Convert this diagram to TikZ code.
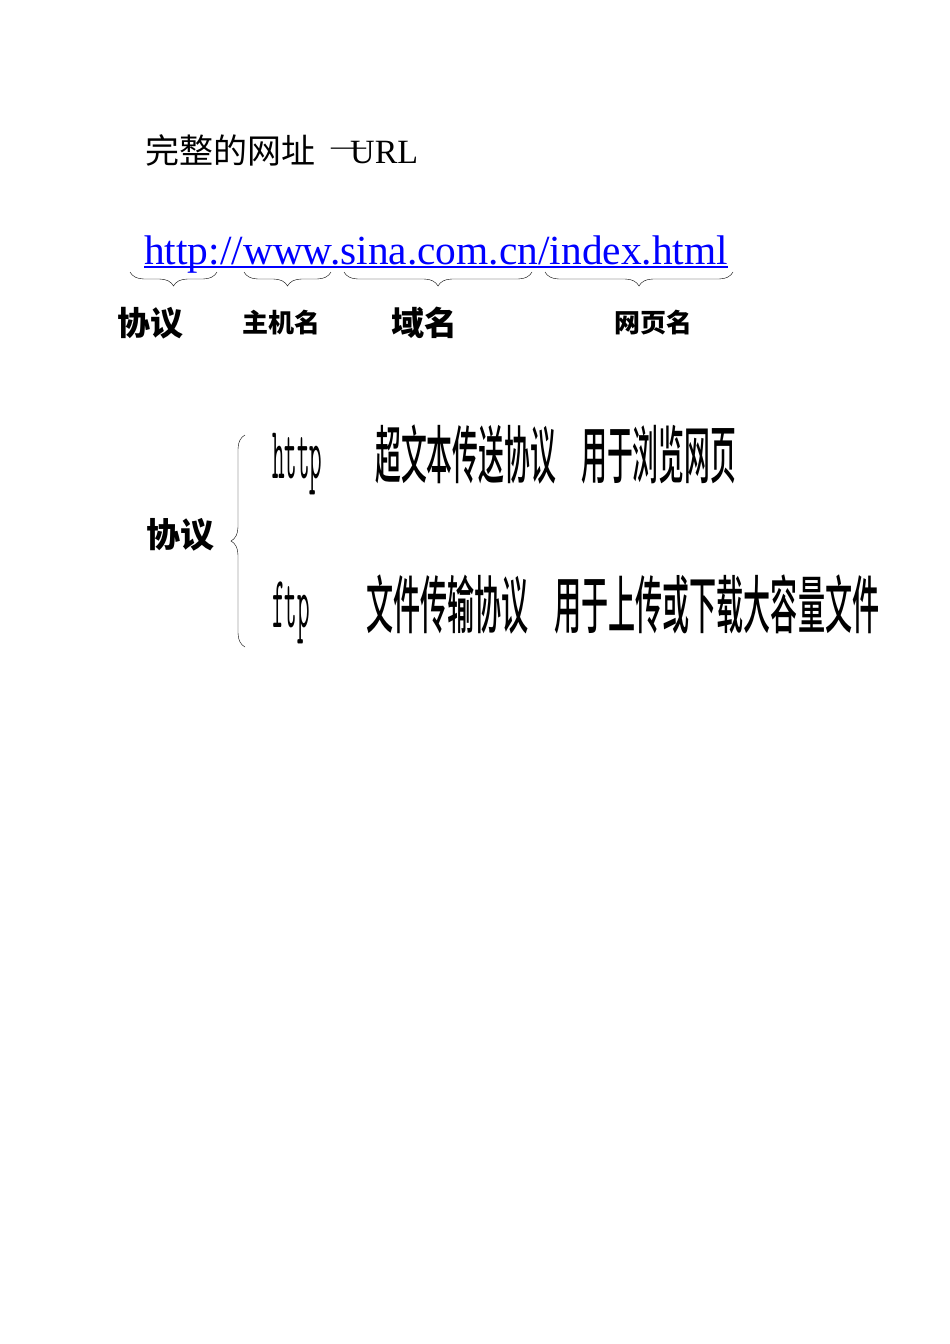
\documentclass[tikz,border=0pt]{standalone}
\usepackage{graphicx}
\usepackage{fontspec}
\setmainfont{Liberation Serif}
\newfontfamily\cjk{Noto Sans CJK SC}
\newfontfamily\cjkm{Noto Sans CJK SC Medium}
\usetikzlibrary{positioning,decorations.pathreplacing}

\begin{document}
\begin{tikzpicture}[x=1pt,y=-1pt,
  lab/.style={inner sep=0pt},
  row/.style={inner sep=0pt,anchor=base west},
  curly/.style={decorate,decoration={brace,amplitude=14pt}}]
\useasboundingbox (0,0) rectangle (950,1344);

% title and address
\node[row] (title) at (145,163) {\cjk\fontsize{34}{40}\selectfont 完整的网址};
\node[row] (dash) at (331,154) {\fontsize{25}{30}\selectfont\scalebox{1.4}[1]{—}};
\node[row] (urlword) at (350,163) {\fontsize{34}{40}\selectfont URL};
\node[row,text=blue] (url) at (144,264) {\fontsize{41.4}{48}\selectfont http://www.sina.com.cn/index.html};
\draw[blue,line width=1.6pt] ([yshift=-3pt]url.base west) -- ([yshift=-3pt]url.base east);

% parts of the address
\foreach \from/\to/\name in {130/217/b1, 244/331/b2, 344/532/b3, 545/733/b4} {
    \coordinate (\name l) at (\from,272);
    \coordinate (\name r) at (\to,272);
    \draw[curly] (\name r) -- (\name l);
}
\node[lab] (proto) at (150,323) {\cjk\bfseries\fontsize{33}{40}\selectfont 协议};
\node[lab] (host) at (281,323) {\cjk\bfseries\fontsize{26}{30}\selectfont 主机名};
\node[lab] (domain) at (424,323) {\cjk\bfseries\fontsize{33}{40}\selectfont 域名};
\node[lab] (page) at (653,323) {\cjk\bfseries\fontsize{26}{30}\selectfont 网页名};

% protocols
\node[lab] (kinds) at (180,535) {\cjk\bfseries\fontsize{34}{40}\selectfont 协议};
\coordinate (top) at (245,435);
\coordinate (bot) at (245,647);
\draw[curly] (bot) -- (top);

\node[row] (http) at (272,478) {\ttfamily\fontsize{74}{80}\selectfont\scalebox{0.33}[1]{http}};
\node[row] (httpname) at (375,478) {\cjkm\fontsize{63}{70}\selectfont\scalebox{0.41}[1]{超文本传送协议}};
\node[row] (httpuse) at (581,478) {\cjkm\fontsize{63}{70}\selectfont\scalebox{0.41}[1]{用于浏览网页}};
\node[row] (ftp) at (272,627) {\ttfamily\fontsize{74}{80}\selectfont\scalebox{0.33}[1]{ftp}};
\node[row] (ftpname) at (366,628) {\cjkm\fontsize{63}{70}\selectfont\scalebox{0.43}[1]{文件传输协议}};
\node[row] (ftpuse) at (554,628) {\cjkm\fontsize{63}{70}\selectfont\scalebox{0.43}[1]{用于上传或下载大容量文件}};
\end{tikzpicture}
\end{document}
